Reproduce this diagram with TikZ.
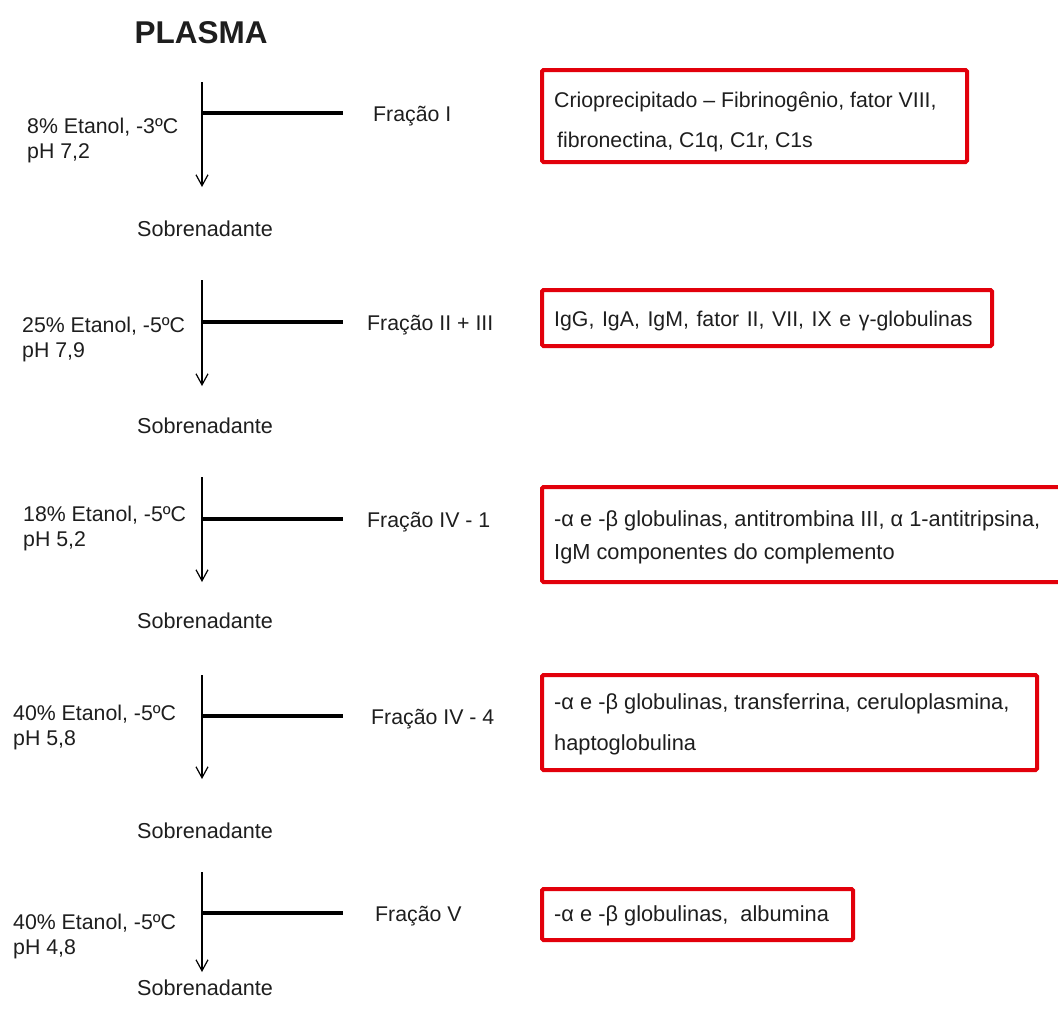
\documentclass[tikz,border=0pt]{standalone}
\usepackage{fontspec}
\setmainfont{Liberation Sans}
\usetikzlibrary{arrows.meta}
\definecolor{boxred}{HTML}{E2000B}
\definecolor{txt}{HTML}{1E1E1E}
\tikzset{
  lbl/.style={anchor=west,align=left,inner sep=0pt,text=txt,font=\fontsize{21.3}{25}\selectfont},
  frac/.style={anchor=west,inner sep=0pt,text=txt,font=\fontsize{21.3}{25}\selectfont},
  sob/.style={anchor=center,inner sep=0pt,text=txt,font=\fontsize{21.6}{25}\selectfont},
  redbox/.style={draw=boxred,line width=4pt,rounded corners=1.5pt,anchor=north west,inner sep=0pt},
  boxtxt/.style={anchor=west,align=left,inner sep=0pt,text=txt},
  flow/.style={line width=1.2pt,-{Straight Barb[length=11pt,width=12pt,line width=1.2pt]}},
  bar/.style={line width=3.6pt}
}
\begin{document}
\begin{tikzpicture}[x=1pt,y=-1pt]
\useasboundingbox (0,0) rectangle (1058,1021);
\clip (0,0) rectangle (1058,1021);
\fill[white] (0,0) rectangle (1058,1021);
\node[inner sep=0pt,text=txt,font=\fontsize{31.5}{32}\bfseries] (plasma) at (201,33) {PLASMA};

% Block 1
\coordinate (t1) at (202,82); \coordinate (a1) at (202,187); \coordinate (h1s) at (202,113); \coordinate (h1) at (343,113);
\draw[flow] (t1) -- (a1);
\draw[bar] (h1s) -- (h1);
\node[lbl] (c1) at (27,140) {8\% Etanol, -3ºC\\pH 7,2};
\node[frac] (f1) at (373,116) {Fração I};
\node[sob] (s1) at (205,229) {Sobrenadante};
\node[redbox,minimum width=425pt,minimum height=92pt] (b1) at (540,68) {};
\node[boxtxt,font=\fontsize{21.3}{40}\selectfont] (x1) at ([xshift=14pt,yshift=-6pt]b1.west)
  {Crioprecipitado – Fibrinogênio, fator VIII,\\\hspace*{3pt}fibronectina, C1q, C1r, C1s};

% Block 2
\coordinate (t2) at (202,280); \coordinate (a2) at (202,386); \coordinate (h2s) at (202,322); \coordinate (h2) at (343,322);
\draw[flow] (t2) -- (a2);
\draw[bar] (h2s) -- (h2);
\node[lbl] (c2) at (22,339) {25\% Etanol, -5ºC\\pH 7,9};
\node[frac] (f2) at (367,325) {Fração II + III};
\node[sob] (s2) at (205,426) {Sobrenadante};
\node[redbox,minimum width=450pt,minimum height=56pt] (b2) at (540,288) {};
\node[boxtxt,font=\fontsize{21.3}{30}\selectfont] (x2) at ([xshift=14pt,yshift=-3pt]b2.west)
  {\spaceskip=7.6pt\relax IgG, IgA, IgM, fator II, VII, IX e γ-globulinas};

% Block 3
\coordinate (t3) at (202,477); \coordinate (a3) at (202,582); \coordinate (h3s) at (202,519); \coordinate (h3) at (343,519);
\draw[flow] (t3) -- (a3);
\draw[bar] (h3s) -- (h3);
\node[lbl] (c3) at (23,528) {18\% Etanol, -5ºC\\pH 5,2};
\node[frac] (f3) at (367,522) {Fração IV - 1};
\node[sob] (s3) at (205,621) {Sobrenadante};
\node[redbox,minimum width=524pt,minimum height=95pt] (b3) at (540,485) {};
\node[boxtxt,font=\fontsize{21.8}{33}\selectfont] (x3) at ([xshift=14pt,yshift=-3pt]b3.west)
  {-α e -β globulinas, antitrombina III, α 1-antitripsina,\\IgM componentes do complemento};

% Block 4
\coordinate (t4) at (202,675); \coordinate (a4) at (202,779); \coordinate (h4s) at (202,716); \coordinate (h4) at (343,716);
\draw[flow] (t4) -- (a4);
\draw[bar] (h4s) -- (h4);
\node[lbl] (c4) at (13,727) {40\% Etanol, -5ºC\\pH 5,8};
\node[frac] (f4) at (371,719) {Fração IV - 4};
\node[sob] (s4) at (205,831) {Sobrenadante};
\node[redbox,minimum width=495pt,minimum height=95pt] (b4) at (540,673) {};
\node[boxtxt,font=\fontsize{21.8}{41}\selectfont] (x4) at ([xshift=14pt,yshift=-2pt]b4.west)
  {-α e -β globulinas, transferrina, ceruloplasmina,\\haptoglobulina};

% Block 5
\coordinate (t5) at (202,872); \coordinate (a5) at (202,972); \coordinate (h5s) at (202,913); \coordinate (h5) at (343,913);
\draw[flow] (t5) -- (a5);
\draw[bar] (h5s) -- (h5);
\node[lbl] (c5) at (13,936) {40\% Etanol, -5ºC\\pH 4,8};
\node[frac] (f5) at (375,916) {Fração V};
\node[sob] (s5) at (205,988) {Sobrenadante};
\node[redbox,minimum width=311pt,minimum height=51pt] (b5) at (540,887) {};
\node[boxtxt,font=\fontsize{21.8}{30}\selectfont] (x5) at ([xshift=14pt,yshift=-1.5pt]b5.west)
  {-α e -β globulinas,\ \ albumina};
\end{tikzpicture}
\end{document}
